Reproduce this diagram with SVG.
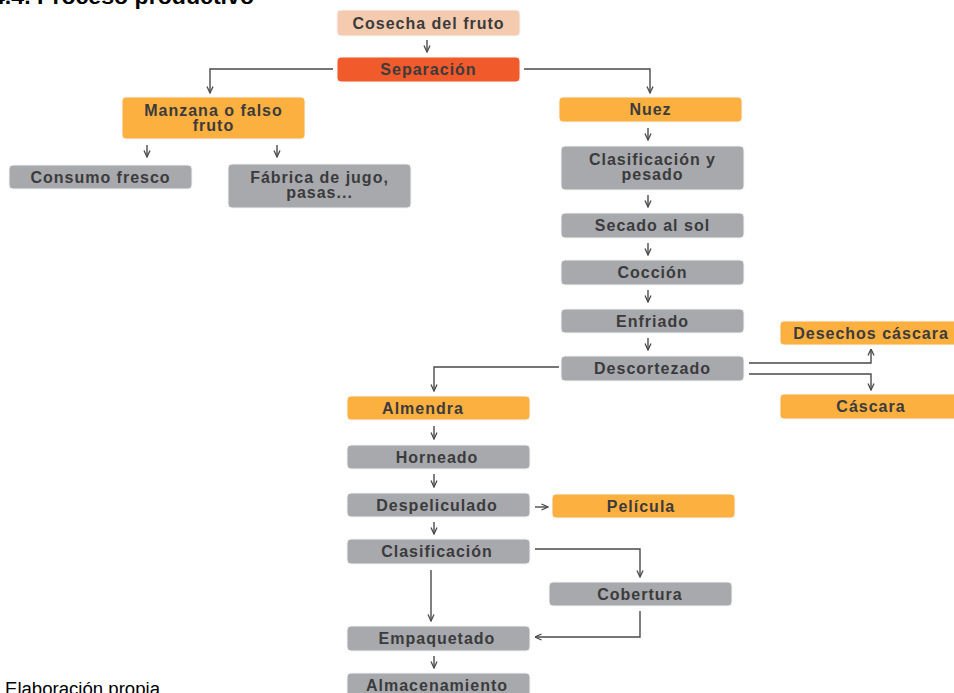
<svg xmlns="http://www.w3.org/2000/svg" width="954" height="693" viewBox="0 0 954 693">
<defs>
<marker id="ah" viewBox="0 0 8 8" refX="7.5" refY="4" markerWidth="8" markerHeight="8" markerUnits="userSpaceOnUse" orient="auto">
<path d="M1,1 L7.5,4 L1,7" fill="none" stroke="#4a4a4c" stroke-width="1.3"/>
</marker>
</defs>
<style>
.n rect{stroke:#f4f4f4;stroke-width:1}
.g rect{fill:#a7a9ac}
.o rect{fill:#fbb040}
.t{font-family:"Liberation Sans",Arial,sans-serif;font-weight:bold;font-size:16px;letter-spacing:1px;fill:#3b3b3d;text-anchor:middle}
.c path{fill:none;stroke:#4a4a4c;stroke-width:1.4;marker-end:url(#ah)}
.cap{font-family:"Liberation Sans",Arial,sans-serif;fill:#000}
</style>
<rect width="954" height="693" fill="#fff"/>
<text class="cap" x="-8" y="4" font-size="22" font-weight="bold" textLength="262" lengthAdjust="spacingAndGlyphs">4.4. Proceso productivo</text>
<text class="cap" x="5" y="695" font-size="18" textLength="155" lengthAdjust="spacingAndGlyphs">Elaboración propia</text>

<g id="connectors" class="c">
<path d="M427,40 V52"/>
<path d="M333,69 H210 V93"/>
<path d="M524,69 H650 V93"/>
<path d="M147,145 V157"/>
<path d="M277,145 V157"/>
<path d="M648,128 V140"/>
<path d="M648,195 V207"/>
<path d="M648,243 V255"/>
<path d="M648,290 V302"/>
<path d="M648,338 V350"/>
<path d="M559,367 H434 V391"/>
<path d="M749,363 H871 V349"/>
<path d="M749,374 H871 V390"/>
<path d="M434,426 V439"/>
<path d="M434,474 V487"/>
<path d="M535,507 H548"/>
<path d="M434,522 V534"/>
<path d="M535,549 H640 V577"/>
<path d="M431,570 V621"/>
<path d="M640,611 V637 H535"/>
<path d="M434,656 V668"/>
</g>

<g id="cosecha" class="n"><rect x="337" y="10" width="183" height="26" rx="4" fill="#f5cbb0"/><text class="t" x="428.5" y="28.5">Cosecha del fruto</text></g>
<g id="separacion" class="n"><rect x="337" y="57" width="183" height="25" rx="4" fill="#f15a2b"/><text class="t" x="428.5" y="75">Separación</text></g>
<g id="manzana" class="n o"><rect x="122" y="97" width="183" height="42" rx="4"/><text class="t" x="213.5" y="116">Manzana o falso</text><text class="t" x="213.5" y="131">fruto</text></g>
<g id="nuez" class="n o"><rect x="559" y="97" width="183" height="25" rx="4"/><text class="t" x="650.5" y="115">Nuez</text></g>
<g id="consumo" class="n g"><rect x="9" y="165" width="183" height="24" rx="4"/><text class="t" x="100.5" y="183">Consumo fresco</text></g>
<g id="fabrica" class="n g"><rect x="228" y="164" width="183" height="44" rx="4"/><text class="t" x="319.5" y="183">Fábrica de jugo,</text><text class="t" x="319.5" y="198">pasas...</text></g>
<g id="clasif-pesado" class="n g"><rect x="561" y="146" width="183" height="44" rx="4"/><text class="t" x="652.5" y="165">Clasificación y</text><text class="t" x="652.5" y="180">pesado</text></g>
<g id="secado" class="n g"><rect x="561" y="213" width="183" height="25" rx="4"/><text class="t" x="652.5" y="231">Secado al sol</text></g>
<g id="coccion" class="n g"><rect x="561" y="260" width="183" height="25" rx="4"/><text class="t" x="652.5" y="278">Cocción</text></g>
<g id="enfriado" class="n g"><rect x="561" y="309" width="183" height="24" rx="4"/><text class="t" x="652.5" y="327">Enfriado</text></g>
<g id="descortezado" class="n g"><rect x="561" y="356" width="183" height="25" rx="4"/><text class="t" x="652.5" y="374">Descortezado</text></g>
<g id="desechos" class="n o"><rect x="780" y="321" width="183" height="24" rx="4"/><text class="t" x="871" y="339">Desechos cáscara</text></g>
<g id="cascara" class="n o"><rect x="780" y="394" width="183" height="25" rx="4"/><text class="t" x="871" y="412">Cáscara</text></g>
<g id="almendra" class="n o"><rect x="347" y="396" width="183" height="24" rx="4"/><text class="t" x="423" y="414">Almendra</text></g>
<g id="horneado" class="n g"><rect x="347" y="445" width="183" height="24" rx="4"/><text class="t" x="437" y="463">Horneado</text></g>
<g id="despeliculado" class="n g"><rect x="347" y="493" width="183" height="24" rx="4"/><text class="t" x="437" y="511">Despeliculado</text></g>
<g id="pelicula" class="n o"><rect x="552" y="494" width="183" height="24" rx="4"/><text class="t" x="641" y="512">Película</text></g>
<g id="clasificacion" class="n g"><rect x="347" y="539" width="183" height="25" rx="4"/><text class="t" x="437" y="557">Clasificación</text></g>
<g id="cobertura" class="n g"><rect x="549" y="582" width="183" height="24" rx="4"/><text class="t" x="640" y="600">Cobertura</text></g>
<g id="empaquetado" class="n g"><rect x="347" y="626" width="183" height="25" rx="4"/><text class="t" x="437" y="644">Empaquetado</text></g>
<g id="almacenamiento" class="n g"><rect x="347" y="673" width="183" height="25" rx="4"/><text class="t" x="437" y="691">Almacenamiento</text></g>
</svg>
